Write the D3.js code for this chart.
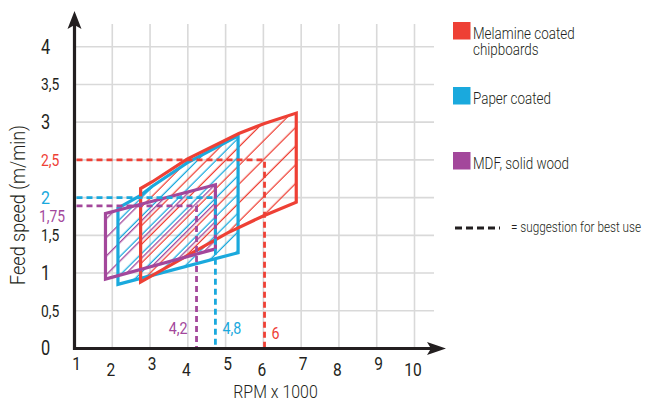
<!DOCTYPE html>
<html>
<head>
<meta charset="utf-8">
<script src="https://cdn.jsdelivr.net/npm/d3@7/dist/d3.min.js"></script>
<style>
  html, body { margin: 0; padding: 0; background: #fff; }
  svg { display: block; }
  text { font-family: Roboto, "Noto Sans", "Liberation Sans", sans-serif; }
</style>
</head>
<body>
<svg id="chart" width="658" height="403"></svg>
<script>
// ---------------- data ----------------
const xTicks = [1, 2, 3, 4, 5, 6, 7, 8, 9, 10];
const xTickLabels = ["1", "2", "3", "4", "5", "6", "7", "8", "9", "10"];
const yTicks = [0, 0.5, 1, 1.5, 3, 3.5, 4];
const yTickLabels = ["0", "0,5", "1", "1,5", "3", "3,5", "4"];
const yGrid = [0.5, 1, 1.5, 2, 2.5, 3, 3.5, 4];

const seriesNames = ["Melamine coated chipboards", "Paper coated", "MDF, solid wood"];
const seriesColors = ["#ee4035", "#1aa9dd", "#a3479b"];

// polygon outlines (RPM x 1000, feed speed m/min)
const melamineRPM  = [2.75, 2.75, 3.06, 3.98, 5.35, 6.01, 6.87, 6.87, 6.01, 5.04];
const melamineFeed = [0.88, 2.12, 2.21, 2.51, 2.85, 2.98, 3.12, 1.94, 1.76, 1.53];
const paperRPM  = [2.15, 2.15, 2.75, 3.06, 3.98, 5.33, 5.33];
const paperFeed = [0.85, 1.86, 2.03, 2.15, 2.46, 2.82, 1.27];
const mdfRPM  = [1.82, 1.82, 4.73, 4.73];
const mdfFeed = [0.92, 1.79, 2.17, 1.32];

// suggestions for best use
const bestRPM = [6.03, 4.73, 4.23];
const bestFeed = [2.5, 2.0, 1.89];
const bestRPMLabels = ["6", "4,8", "4,2"];
const bestFeedLabels = ["2,5", "2", "1,75"];
const bestFeedLabelAt = [2.5, 2.01, 1.75];

// ---------------- drawing ----------------
const svg = d3.select("#chart");
const x = d3.scaleLinear().domain([1, 10]).range([74.5, 414.5]);
const y = d3.scaleLinear().domain([0, 4]).range([348.5, 46.7]);
const SX = 0.84;          // condensed text
const ink = "#231f20";

function txt(g, px, py, s, o) {
  o = o || {};
  const t = g.append("text")
    .attr("transform", `translate(${px},${py})${o.rotate ? ` rotate(${o.rotate})` : ""} scale(${o.sx || SX},1)`)
    .attr("text-anchor", o.anchor || "start")
    .style("font-size", (o.size || 16) + "px")
    .style("font-weight", o.weight || 400)
    .style("fill", o.fill || ink)
    .text(s);
  return t;
}

// patterns
const defs = svg.append("defs");
const hatchPhase = [8.8, 2.2, 5.4];
seriesColors.forEach((c, i) => {
  const p = defs.append("pattern")
    .attr("id", "hatch" + i)
    .attr("patternUnits", "userSpaceOnUse")
    .attr("width", 13.2).attr("height", 13.2)
    .attr("patternTransform", "rotate(45)");
  p.append("line")
    .attr("x1", hatchPhase[i]).attr("x2", hatchPhase[i])
    .attr("y1", -2).attr("y2", 16)
    .attr("stroke", c).attr("stroke-width", 1.3);
});

// grid
const grid = svg.append("g").attr("stroke", "#d9d9d9").attr("stroke-width", 1.6);
grid.selectAll("line.v").data(xTicks.slice(1)).join("line")
  .attr("x1", d => x(d)).attr("x2", d => x(d))
  .attr("y1", 24).attr("y2", y(0));
grid.selectAll("line.h").data(yGrid).join("line")
  .attr("x1", x(1)).attr("x2", 434)
  .attr("y1", d => y(d)).attr("y2", d => y(d));

// polygons
const polys = [
  melamineRPM.map((r, i) => [r, melamineFeed[i]]),
  paperRPM.map((r, i) => [r, paperFeed[i]]),
  mdfRPM.map((r, i) => [r, mdfFeed[i]])
];
const line = d3.line().x(d => x(d[0])).y(d => y(d[1])).curve(d3.curveLinearClosed);

const shapes = svg.append("g");
polys.forEach((p, i) => {
  shapes.append("path").attr("d", line(p)).attr("fill", `url(#hatch${i})`).attr("stroke", "none");
});
[1, 0, 2].forEach(i => {
  shapes.append("path").attr("d", line(polys[i]))
    .attr("fill", "none").attr("stroke", seriesColors[i])
    .attr("stroke-width", 3.2).attr("stroke-linejoin", "miter");
});

// best-use dashed lines
const dash = svg.append("g").attr("fill", "none").attr("stroke-width", 2.8).attr("stroke-dasharray", "6,4");
bestRPM.forEach((r, i) => {
  dash.append("path")
    .attr("d", `M${x(1) + 2},${y(bestFeed[i])}H${x(r)}V${y(0)}`)
    .attr("stroke", seriesColors[i]);
});

// axes
const ax = svg.append("g");
ax.append("line").attr("x1", x(1)).attr("x2", 436).attr("y1", y(0)).attr("y2", y(0))
  .attr("stroke", ink).attr("stroke-width", 3.2);
ax.append("line").attr("x1", x(1)).attr("x2", x(1)).attr("y1", y(0) + 1.6).attr("y2", 22)
  .attr("stroke", ink).attr("stroke-width", 3.2);
ax.append("path")
  .attr("d", `M${x(1)},11 L${x(1) + 7},29 L${x(1)},25 L${x(1) - 7},29Z`).attr("fill", ink);
ax.append("path")
  .attr("d", `M446,${y(0)} L427,${y(0) - 6.5} L431,${y(0)} L427,${y(0) + 6.5}Z`).attr("fill", ink);

// x tick labels (alternating heights as in the reference)
const tl = svg.append("g");
xTicks.forEach((v, i) => {
  const odd = i % 2 === 0;
  txt(tl, x(v) + (odd ? 2 : -1.5), odd ? 369.5 : 376, xTickLabels[i], { size: 18.5, anchor: "middle" });
});
// y tick labels
yTicks.forEach((v, i) => {
  const isInt = Number.isInteger(v);
  const sz = isInt ? 19.5 : 16.5;
  txt(tl, 41, y(v) + 0.355 * sz, yTickLabels[i], { size: sz });
});
// best-use labels on y axis
bestFeedLabels.forEach((s, i) => {
  const sz = s.length === 1 ? 19 : 16.5;
  txt(tl, s.length > 3 ? 39 : 41, y(bestFeedLabelAt[i]) + 0.355 * sz, s, { size: sz, fill: seriesColors[i] });
});
// best-use labels on x axis
bestRPM.forEach((r, i) => {
  const left = i === 2;
  txt(tl, left ? x(r) - 9 : x(r) + 7, i === 0 ? 339 : 334, bestRPMLabels[i],
      { size: 17, fill: seriesColors[i], anchor: left ? "end" : "start" });
});

// axis titles
txt(svg, 275.5, 398, "RPM x 1000", { size: 18.5, anchor: "middle", sx: 0.86, weight: 300 });
txt(svg, 25, 205, "Feed speed (m/min)", { size: 20.5, anchor: "middle", rotate: -90, sx: 0.88, weight: 300 });

// legend
const lg = svg.append("g");
const legendY = [22, 87, 152];
seriesNames.forEach((n, i) => {
  lg.append("rect").attr("x", 453).attr("y", legendY[i]).attr("width", 17.5).attr("height", 17.5)
    .attr("fill", seriesColors[i]);
});
txt(lg, 473, 38.5, "Melamine coated", { size: 16, weight: 300 });
txt(lg, 473, 54.5, "chipboards", { size: 16, weight: 300 });
txt(lg, 473, 104, "Paper coated", { size: 16, weight: 300 });
txt(lg, 473, 169, "MDF, solid wood", { size: 16, weight: 300 });
lg.append("line").attr("x1", 455).attr("x2", 500).attr("y1", 228).attr("y2", 228)
  .attr("stroke", ink).attr("stroke-width", 3).attr("stroke-dasharray", "7,4");
txt(lg, 511, 232, "= suggestion for best use", { size: 14, weight: 300 });
</script>
</body>
</html>
